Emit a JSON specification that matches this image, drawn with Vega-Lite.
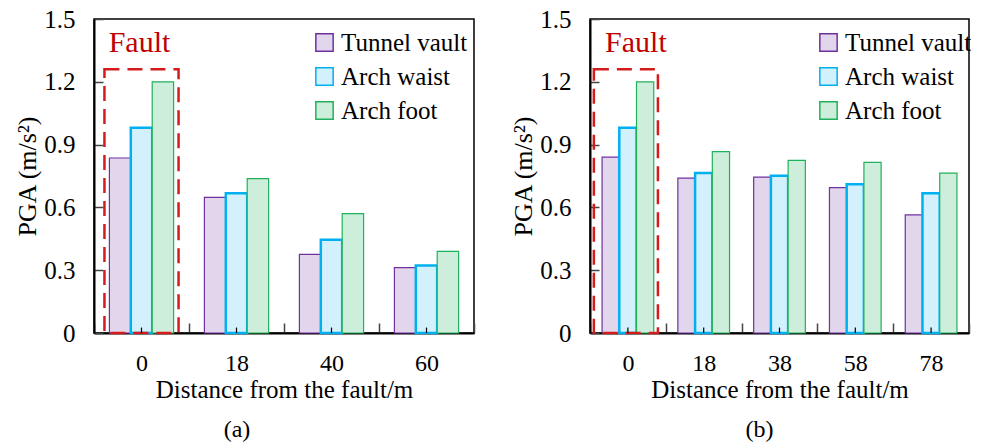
{
  "$schema": "https://vega.github.io/schema/vega-lite/v6.json",
  "background": "white",
  "padding": {"left": 14, "top": 6, "right": 5, "bottom": 5},
  "spacing": 34,
  "resolve": {"legend": {"fill": "independent", "stroke": "independent"}},
  "config": {
    "font": "Liberation Serif",
    "view": {"stroke": "#000", "strokeWidth": 1.5},
    "axis": {"grid": false, "zindex": 1, "domainColor": "#000", "domainWidth": 2, "tickColor": "#444", "tickWidth": 1.5, "labelColor": "#000", "titleColor": "#000", "labelFont": "Liberation Serif", "titleFont": "Liberation Serif", "labelFontSize": 25, "titleFontSize": 26, "titleFontWeight": "normal"},
    "legend": {"labelFont": "Liberation Serif", "labelFontSize": 25, "labelColor": "#000"},
    "title": {"font": "Liberation Serif", "fontSize": 24, "fontWeight": "normal", "color": "#000"}
  },
  "datasets": {
    "a": [
      {"dist": "0", "part": "Tunnel vault", "pga": 0.836},
      {"dist": "0", "part": "Arch waist", "pga": 0.98},
      {"dist": "0", "part": "Arch foot", "pga": 1.2},
      {"dist": "18", "part": "Tunnel vault", "pga": 0.648},
      {"dist": "18", "part": "Arch waist", "pga": 0.667},
      {"dist": "18", "part": "Arch foot", "pga": 0.737},
      {"dist": "40", "part": "Tunnel vault", "pga": 0.376},
      {"dist": "40", "part": "Arch waist", "pga": 0.446},
      {"dist": "40", "part": "Arch foot", "pga": 0.57},
      {"dist": "60", "part": "Tunnel vault", "pga": 0.312},
      {"dist": "60", "part": "Arch waist", "pga": 0.323},
      {"dist": "60", "part": "Arch foot", "pga": 0.39}
    ],
    "b": [
      {"dist": "0", "part": "Tunnel vault", "pga": 0.84},
      {"dist": "0", "part": "Arch waist", "pga": 0.98},
      {"dist": "0", "part": "Arch foot", "pga": 1.2},
      {"dist": "18", "part": "Tunnel vault", "pga": 0.74},
      {"dist": "18", "part": "Arch waist", "pga": 0.764},
      {"dist": "18", "part": "Arch foot", "pga": 0.866},
      {"dist": "38", "part": "Tunnel vault", "pga": 0.745},
      {"dist": "38", "part": "Arch waist", "pga": 0.751},
      {"dist": "38", "part": "Arch foot", "pga": 0.825},
      {"dist": "58", "part": "Tunnel vault", "pga": 0.694},
      {"dist": "58", "part": "Arch waist", "pga": 0.71},
      {"dist": "58", "part": "Arch foot", "pga": 0.815},
      {"dist": "78", "part": "Tunnel vault", "pga": 0.564},
      {"dist": "78", "part": "Arch waist", "pga": 0.667},
      {"dist": "78", "part": "Arch foot", "pga": 0.764}
    ],
    "fault": [{"dist": "0", "top": 1.26, "label": "Fault"}],
    "catsA": [{"dist": "0"}, {"dist": "18"}, {"dist": "40"}, {"dist": "60"}],
    "catsB": [{"dist": "0"}, {"dist": "18"}, {"dist": "38"}, {"dist": "58"}, {"dist": "78"}]
  },
  "hconcat": [
    {
      "width": 380,
      "height": 314,
      "title": {"text": "(a)", "orient": "bottom", "offset": 16, "frame": "group", "anchor": "middle", "dx": -47},
      "resolve": {"scale": {"xOffset": "independent"}},
      "layer": [
        {
          "data": {"name": "a"},
          "mark": {"type": "bar"},
          "encoding": {
            "x": {"field": "dist", "type": "nominal", "sort": null, "scale": {"paddingInner": 0, "paddingOuter": 0},
              "axis": {"title": "Distance from the fault/m", "labelAngle": 0, "tickBand": "extent", "tickSize": -10, "labelPadding": 28, "labelFontSize": 24, "titleFontSize": 25, "titlePadding": 2}},
            "xOffset": {"field": "part", "type": "nominal", "sort": ["Tunnel vault", "Arch waist", "Arch foot"], "scale": {"paddingInner": 0, "paddingOuter": 0.72}},
            "y": {"field": "pga", "type": "quantitative", "scale": {"domain": [0, 1.5], "nice": false},
              "axis": {"title": "PGA (m/s²)", "values": [0, 0.3, 0.6, 0.9, 1.2, 1.5], "format": "~g", "tickSize": -9, "labelPadding": 28, "titlePadding": 3}},
            "fill": {"field": "part", "type": "nominal", "sort": ["Tunnel vault", "Arch waist", "Arch foot"],
              "scale": {"domain": ["Tunnel vault", "Arch waist", "Arch foot"], "range": ["#e2d6ec", "#d3f1fc", "#cdeedb"]},
              "legend": {"title": null, "orient": "none", "legendX": 218, "legendY": 11, "symbolType": "square", "symbolSize": 300, "symbolStrokeWidth": 1.5, "rowPadding": 8, "labelOffset": 4}},
            "stroke": {"field": "part", "type": "nominal", "sort": ["Tunnel vault", "Arch waist", "Arch foot"],
              "scale": {"domain": ["Tunnel vault", "Arch waist", "Arch foot"], "range": ["#7030a0", "#00b0f0", "#1fb25a"]},
              "legend": {"title": null, "orient": "none", "legendX": 218, "legendY": 11, "symbolType": "square", "symbolSize": 300, "symbolStrokeWidth": 1.5, "rowPadding": 8, "labelOffset": 4}},
            "strokeWidth": {"condition": {"test": "datum.part === 'Arch waist'", "value": 2.5}, "value": 1.2}
          }
        },
        {
          "data": {"name": "fault"},
          "mark": {"type": "bar", "fill": "transparent", "stroke": "#d41c1c", "strokeWidth": 2.5, "strokeDash": [15, 8], "width": {"band": 0.78}},
          "encoding": {
            "x": {"field": "dist", "type": "nominal", "sort": null},
            "y": {"field": "top", "type": "quantitative"},
            "y2": {"datum": 0}
          }
        },
        {
          "data": {"name": "fault"},
          "mark": {"type": "text", "color": "#c00000", "fontSize": 30, "font": "Liberation Serif", "baseline": "alphabetic", "dx": -2},
          "encoding": {
            "x": {"field": "dist", "type": "nominal", "sort": null},
            "y": {"datum": 1.34, "type": "quantitative"},
            "text": {"field": "label"}
          }
        },
        {
          "data": {"name": "catsA"},
          "mark": {"type": "rule", "color": "#000", "strokeWidth": 1.2},
          "encoding": {
            "x": {"field": "dist", "type": "nominal", "sort": null},
            "y": {"datum": 0, "type": "quantitative"},
            "y2": {"datum": 0.026}
          }
        }
      ]
    },
    {
      "width": 379,
      "height": 314,
      "title": {"text": "(b)", "orient": "bottom", "offset": 16, "frame": "group", "anchor": "middle", "dx": -20},
      "resolve": {"scale": {"xOffset": "independent"}},
      "layer": [
        {
          "data": {"name": "b"},
          "mark": {"type": "bar"},
          "encoding": {
            "x": {"field": "dist", "type": "nominal", "sort": null, "scale": {"paddingInner": 0, "paddingOuter": 0},
              "axis": {"title": "Distance from the fault/m", "labelAngle": 0, "tickBand": "extent", "tickSize": -10, "labelPadding": 28, "labelFontSize": 24, "titleFontSize": 25, "titlePadding": 2}},
            "xOffset": {"field": "part", "type": "nominal", "sort": ["Tunnel vault", "Arch waist", "Arch foot"], "scale": {"paddingInner": 0, "paddingOuter": 0.7}},
            "y": {"field": "pga", "type": "quantitative", "scale": {"domain": [0, 1.5], "nice": false},
              "axis": {"title": "PGA (m/s²)", "values": [0, 0.3, 0.6, 0.9, 1.2, 1.5], "format": "~g", "tickSize": -9, "labelPadding": 28, "titlePadding": 3}},
            "fill": {"field": "part", "type": "nominal", "sort": ["Tunnel vault", "Arch waist", "Arch foot"],
              "scale": {"domain": ["Tunnel vault", "Arch waist", "Arch foot"], "range": ["#e2d6ec", "#d3f1fc", "#cdeedb"]},
              "legend": {"title": null, "orient": "none", "legendX": 226, "legendY": 11, "symbolType": "square", "symbolSize": 300, "symbolStrokeWidth": 1.5, "rowPadding": 8, "labelOffset": 4}},
            "stroke": {"field": "part", "type": "nominal", "sort": ["Tunnel vault", "Arch waist", "Arch foot"],
              "scale": {"domain": ["Tunnel vault", "Arch waist", "Arch foot"], "range": ["#7030a0", "#00b0f0", "#1fb25a"]},
              "legend": {"title": null, "orient": "none", "legendX": 226, "legendY": 11, "symbolType": "square", "symbolSize": 300, "symbolStrokeWidth": 1.5, "rowPadding": 8, "labelOffset": 4}},
            "strokeWidth": {"condition": {"test": "datum.part === 'Arch waist'", "value": 2.5}, "value": 1.2}
          }
        },
        {
          "data": {"name": "fault"},
          "mark": {"type": "bar", "fill": "transparent", "stroke": "#d41c1c", "strokeWidth": 2.5, "strokeDash": [15, 8], "width": {"band": 0.845}, "xOffset": -2},
          "encoding": {
            "x": {"field": "dist", "type": "nominal", "sort": null},
            "y": {"field": "top", "type": "quantitative"},
            "y2": {"datum": 0}
          }
        },
        {
          "data": {"name": "fault"},
          "mark": {"type": "text", "color": "#c00000", "fontSize": 30, "font": "Liberation Serif", "baseline": "alphabetic", "dx": 8},
          "encoding": {
            "x": {"field": "dist", "type": "nominal", "sort": null},
            "y": {"datum": 1.34, "type": "quantitative"},
            "text": {"field": "label"}
          }
        },
        {
          "data": {"name": "catsB"},
          "mark": {"type": "rule", "color": "#000", "strokeWidth": 1.2},
          "encoding": {
            "x": {"field": "dist", "type": "nominal", "sort": null},
            "y": {"datum": 0, "type": "quantitative"},
            "y2": {"datum": 0.026}
          }
        }
      ]
    }
  ]
}
